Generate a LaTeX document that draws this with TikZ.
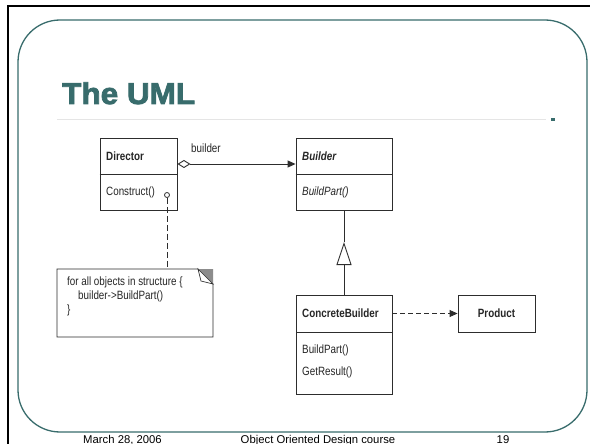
\documentclass[tikz,border=0pt]{standalone}
\usepackage{fontspec}
\setmainfont{Liberation Sans}
\newfontfamily\umlfont[FakeStretch=0.82]{Liberation Sans}
\newfontfamily\titlefont[FakeBold=2.6,FakeStretch=1.05]{Liberation Sans Bold}
\usetikzlibrary{arrows.meta}
\definecolor{teal}{RGB}{56,108,108}
\definecolor{boxline}{RGB}{45,45,45}
\tikzset{
  umlbox/.style={draw=boxline, line width=0.9pt, inner sep=0pt, fill=white},
  umltext/.style={font=\umlfont\fontsize{12}{14}\selectfont, inner sep=0pt, text=black!85},
  conn/.style={draw=boxline, line width=0.9pt},
  footer/.style={font=\fontsize{11.3}{13}\selectfont, inner sep=0pt, anchor=base}
}
\begin{document}
\begin{tikzpicture}[x=1pt,y=-1pt]
\useasboundingbox (0,0) rectangle (590,444);
\clip (0,0) rectangle (590,444);
\fill[white] (0,0) rectangle (590,444);
% outer black border
\draw[line width=2.5pt, black] (8,446) -- (8,6) -- (592,6);
% rounded teal frame
\draw[teal, line width=1.3pt, rounded corners=42pt] (18,20) rectangle (587,432);
% title
\node[anchor=base west, inner sep=0pt, text=teal, font=\titlefont\fontsize{30}{32}\selectfont] (title) at (62,104) {The UML};
% rule under title
\draw[black!10, line width=1pt] (57,120) -- (546,120);
\fill[teal] (551,118) rectangle (555,121);

% Director
\node[umlbox, minimum width=77, minimum height=72] (dir) at (138.5,174) {};
\draw[conn] (dir.west) -- (dir.east);
\node[umltext, anchor=west] (dirname) at (106,156) {\bfseries Director};
\node[umltext, anchor=west] (dirop) at (106,192) {Construct()};

% Builder
\node[umlbox, minimum width=96, minimum height=72] (bld) at (344,174) {};
\draw[conn] (bld.west) -- (bld.east);
\node[umltext, anchor=west] (bldname) at (302,156) {\bfseries\itshape Builder};
\node[umltext, anchor=west] (bldop) at (302,192) {\itshape BuildPart()};

% ConcreteBuilder
\node[umlbox, minimum width=96, minimum height=99] (cb) at (344,344.5) {};
\coordinate (cbdivl) at (296,332);
\coordinate (cbdivr) at (392,332);
\draw[conn] (cbdivl) -- (cbdivr);
\node[umltext, anchor=west] (cbname) at (302,313.5) {\bfseries ConcreteBuilder};
\node[umltext, anchor=west] (cbop1) at (302,350) {BuildPart()};
\node[umltext, anchor=west] (cbop2) at (302,372) {GetResult()};

% Product
\node[umlbox, minimum width=77, minimum height=37] (prod) at (496.5,313.5) {};
\node[umltext] (prodname) at (prod.center) {\bfseries Product};

% Note
\coordinate (nnw) at (57,269);
\coordinate (nf1) at (198,269);
\coordinate (nf2) at (213,284);
\coordinate (nse) at (213,337);
\coordinate (nsw) at (57,337);
\draw[umlbox] (nnw) -- (nf1) -- (nf2) -- (nse) -- (nsw) -- cycle;
\fill[black!45] (nf1) -- (213,269) -- (nf2) -- cycle;
\draw[conn, line width=0.7pt, fill=white] (nf1) -- (201,281) -- (nf2) -- cycle;
\node[inner sep=0pt, minimum width=156, minimum height=68] (note) at (135,303) {};
\node[umltext, anchor=north west, align=left] (notetext) at (67,277)
  {for all objects in structure \{\\\hspace*{11pt}builder->BuildPart()\\\}};

% association builder
\draw[conn, {Diamond[open, length=13pt, width=8pt, line width=0.9pt]}-{Triangle[length=8pt, width=7pt]}]
  ([yshift=10pt]dir.east) -- ([yshift=10pt]bld.west);
\node[umltext, anchor=base west] (assoclabel) at (191,153) {builder};

% note attachment
\node[circle, draw=boxline, line width=0.8pt, inner sep=0pt, minimum size=5pt, fill=white] (dot) at (167,195) {};
\draw[conn, dash pattern=on 6pt off 3pt] (dot.south) -- (dot |- note.north);

% generalization
\coordinate (genapex) at (344,242);
\draw[conn, -{Triangle[open, length=23pt, width=15pt, line width=0.9pt]}] (cb.north) -- (genapex);
\draw[conn] (genapex) -- (bld.south);

% dependency
\draw[conn, dash pattern=on 5pt off 3pt, -{Triangle[length=8pt, width=7pt]}]
  ([yshift=31pt]cb.east) -- (prod.west);

% footer
\node[footer] (fdate) at (122.5,443) {March 28, 2006};
\node[footer] (fcourse) at (318,443) {Object Oriented Design course};
\node[footer] (fpage) at (503,443) {19};
\end{tikzpicture}
\end{document}
